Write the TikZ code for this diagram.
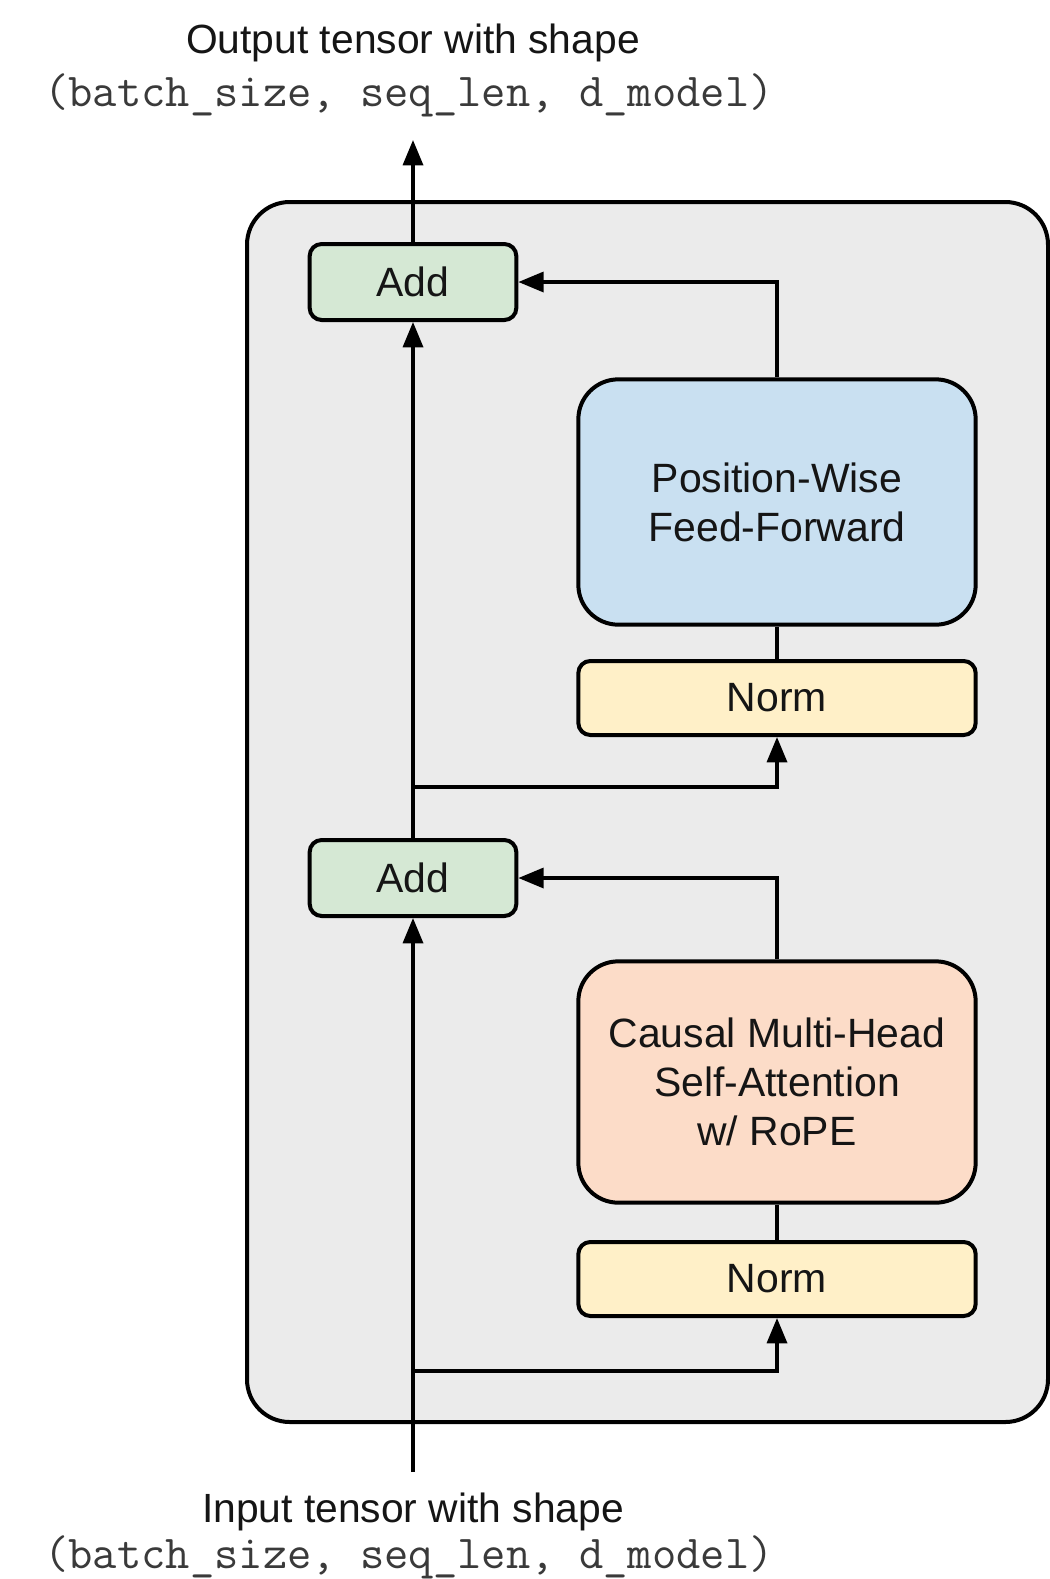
\documentclass[tikz,border=0pt]{standalone}
\usepackage{fontspec}
\setmainfont{Liberation Sans}
\usetikzlibrary{arrows.meta}
\definecolor{addgreen}{HTML}{D5E8D4}
\definecolor{ffnblue}{HTML}{C9E0F1}
\definecolor{attnpeach}{HTML}{FCDCC8}
\definecolor{normyellow}{HTML}{FFF0C8}
\definecolor{outergray}{HTML}{EBEBEB}
\definecolor{monogray}{HTML}{3A3A3A}
\definecolor{textblack}{HTML}{151515}
\tikzset{
  boxbase/.style={draw=black, line width=3pt, align=center, text=textblack,
    font=\fontsize{30.7}{36.8}\selectfont, inner sep=0pt},
  addbox/.style={boxbase, fill=addgreen, rounded corners=9pt,
    minimum width=155pt, minimum height=57pt},
  normbox/.style={boxbase, fill=normyellow, rounded corners=9pt,
    minimum width=298pt, minimum height=55.5pt},
  bigbox/.style={boxbase, rounded corners=30pt, minimum width=298pt},
  conn/.style={draw=black, line width=2.6pt},
  arr/.style={conn, -{Triangle[length=19pt,width=15pt]}},
  titletext/.style={text=textblack, font=\fontsize{30.6}{36}\selectfont, inner sep=0pt},
  monotext/.style={text=monogray, font=\ttfamily\fontsize{35.4}{40}\selectfont, inner sep=0pt}
}
\begin{document}
\begin{tikzpicture}[x=0.75pt,y=-0.75pt]
\useasboundingbox (0,0) rectangle (1050,1579);
\fill[white] (0,0) rectangle (1050,1579);
% outer block
\draw[line width=3pt, fill=outergray, rounded corners=32pt] (247,202) rectangle (1048,1422);
% labels
\node[titletext] (outtitle) at (413,43) {Output tensor with shape};
\node[monotext] (outshape) at (409,95) {(batch\_size, seq\_len, d\_model)};
\node[titletext] (intitle) at (413,1512) {Input tensor with shape};
\node[monotext] (inshape) at (409,1557) {(batch\_size, seq\_len, d\_model)};
% boxes
\node[addbox] (add1) at (413,282) {Add};
\node[bigbox, fill=ffnblue, minimum height=184pt] (ffn) at (777,502) {Position-Wise\\Feed-Forward};
\node[normbox] (norm1) at (777,698) {Norm};
\node[addbox] (add2) at (413,878) {Add};
\node[bigbox, fill=attnpeach, minimum height=181pt] (attn) at (777,1082) {Causal Multi-Head\\Self-Attention\\w/ RoPE};
\node[normbox] (norm2) at (777,1279) {Norm};
% coordinates
\coordinate (in) at (413,1472);
\coordinate (out) at (413,140);
\coordinate (b2) at (413,1371);
\coordinate (b1) at (413,787);
% connectors
\draw[arr] (in) -- (add2.south);
\draw[arr] (b2) -| (norm2.south);
\draw[conn] (norm2.north) -- (attn.south);
\draw[arr] (attn.north) |- (add2.east);
\draw[arr] (add2.north) -- (add1.south);
\draw[arr] (b1) -| (norm1.south);
\draw[conn] (norm1.north) -- (ffn.south);
\draw[arr] (ffn.north) |- (add1.east);
\draw[arr] (add1.north) -- (out);
\end{tikzpicture}
\end{document}
